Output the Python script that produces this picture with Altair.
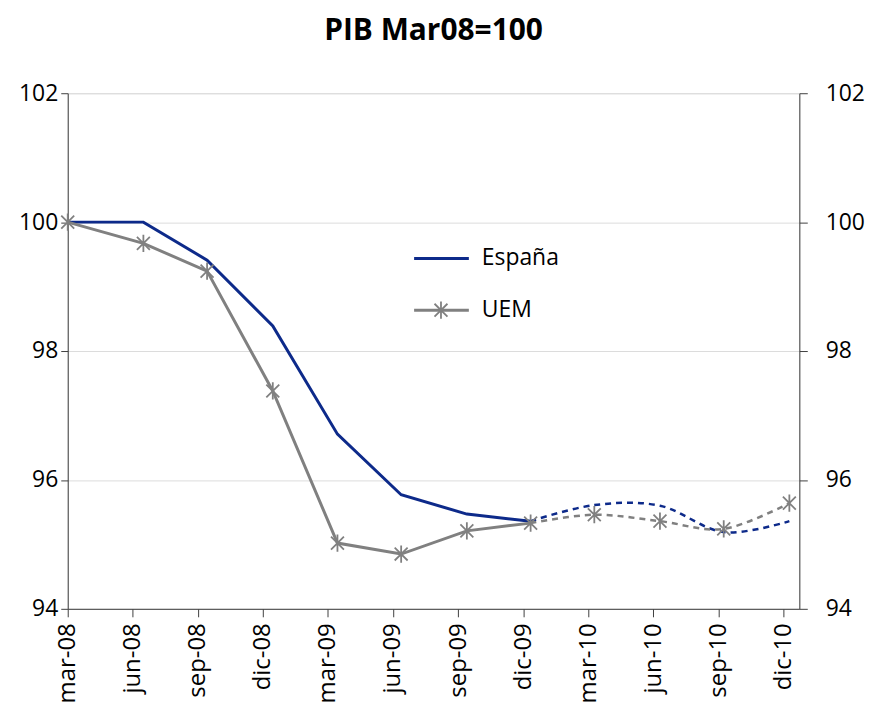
import json
import altair as alt
import pandas as pd

# ---- data ----
periods = ["mar-08", "jun-08", "sep-08", "dic-08", "mar-09", "jun-09",
           "sep-09", "dic-09", "mar-10", "jun-10", "sep-10", "dic-10"]
# position of each observation along the date axis (in quarter-tick units)
t_pos = [0, 1.163, 2.142, 3.152, 4.146, 5.125, 6.135, 7.115, 8.094, 9.103, 10.083, 11.092]
espana = [100, 100, 99.41, 98.39, 96.71, 95.77, 95.47, 95.36, 95.61, 95.60, 95.19, 95.36]
uem = [100, 99.67, 99.24, 97.38, 95.02, 94.85, 95.21, 95.33, 95.46, 95.36, 95.24, 95.64]
n_observed = 8  # observed through dic-09, forecast afterwards
series = ["España", "UEM"]
colors = ["#0d2a8a", "#808080"]
title_text = "PIB Mar08=100"

FONT = "Open Sans"
STAR = "M0,-1L0,1M-0.75,-0.75L0.75,0.75M-0.75,0.75L0.75,-0.75"

rows = []
for name, vals in zip(series, [espana, uem]):
    for i, (t, v) in enumerate(zip(t_pos, vals)):
        rows.append({"series": name, "t": t, "value": v, "i": i})
df = pd.DataFrame(rows)
hist = df[df["i"] < n_observed]
fcst = df[df["i"] >= n_observed - 1]
uem_pts = df[df["series"] == "UEM"]
leg = pd.DataFrame({"label": series, "color": colors})

x_enc = alt.X(
    "t:Q",
    scale=alt.Scale(domain=[0, 11.245], nice=False, zero=False),
    axis=alt.Axis(
        values=list(range(len(periods))),
        labelExpr=f"{json.dumps(periods)}[datum.value]",
        labelAngle=270, labelFontSize=24, labelPadding=6, labelColor="#000000",
        tickSize=8, tickColor="#404040", domainColor="#404040",
        grid=False, title=None, labelFlush=False, labelOverlap=False,
    ),
)
y_scale = alt.Scale(domain=[94, 102], nice=False, zero=False)
y_vals = [94, 96, 98, 100, 102]

y_left = alt.Y("value:Q", scale=y_scale, axis=alt.Axis(
    orient="left", values=y_vals, labelFontSize=23, labelPadding=3, labelColor="#000000",
    tickSize=7, tickColor="#404040", domainColor="#404040",
    grid=True, gridColor="#dcdcdc", title=None))
y_right = alt.Y("value:Q", scale=y_scale, axis=alt.Axis(
    orient="right", values=y_vals, labelFontSize=23, labelPadding=18, labelColor="#000000",
    tickSize=8, tickColor="#404040", domainColor="#404040",
    grid=False, title=None))
y_none = alt.Y("value:Q", scale=y_scale, axis=None)

color_enc = alt.Color("series:N", scale=alt.Scale(domain=series, range=colors), legend=None)

solid = alt.Chart(hist).mark_line(strokeWidth=3).encode(
    x=x_enc, y=y_left, color=color_enc, detail="series:N")
dashed = alt.Chart(fcst).mark_line(strokeWidth=2.5, strokeDash=[6, 5], interpolate="cardinal").encode(
    x=x_enc, y=y_none, color=color_enc, detail="series:N")
stars = alt.Chart(uem_pts).mark_point(shape=STAR, size=300, filled=False, strokeWidth=1.8,
                                      opacity=1, color=colors[1]).encode(
    x=x_enc, y=y_right)

# manual legend inside the plot
leg_esp = alt.Chart(leg).transform_filter(alt.datum.label == series[0])
leg_uem = alt.Chart(leg).transform_filter(alt.datum.label == series[1])
l1_rule = leg_esp.mark_rule(strokeWidth=3, color=colors[0]).encode(
    x=alt.value(348), x2=alt.value(403), y=alt.value(166))
l1_text = leg_esp.mark_text(align="left", baseline="middle", fontSize=23, font=FONT).encode(
    x=alt.value(416), y=alt.value(166), text="label:N")
l2_rule = leg_uem.mark_rule(strokeWidth=3, color=colors[1]).encode(
    x=alt.value(348), x2=alt.value(403), y=alt.value(218))
l2_star = leg_uem.mark_point(shape=STAR, size=300, filled=False, strokeWidth=1.8,
                             opacity=1, color=colors[1]).encode(
    x=alt.value(375), y=alt.value(218))
l2_text = leg_uem.mark_text(align="left", baseline="middle", fontSize=23, font=FONT).encode(
    x=alt.value(416), y=alt.value(218), text="label:N")

chart = alt.layer(
    solid, dashed, stars, l1_rule, l1_text, l2_rule, l2_star, l2_text
).resolve_axis(y="independent").properties(
    width=735, height=518,
    title=alt.TitleParams(title_text, fontSize=30, font=FONT, fontWeight="bold",
                          anchor="middle", offset=36, color="#000000"),
    padding={"left": 10, "top": 7, "right": 2, "bottom": 0},
).configure_view(stroke=None).configure(font=FONT)

chart.save("out.html", embed_options={"renderer": "svg", "actions": False})
